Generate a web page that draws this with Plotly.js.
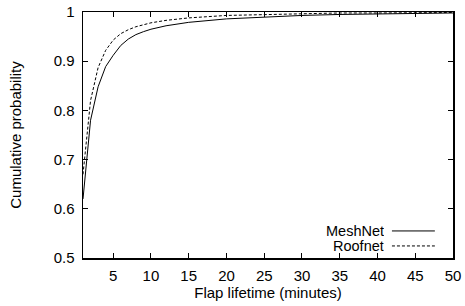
<!DOCTYPE html>
<html>
<head>
<meta charset="utf-8">
<script src="https://cdn.plot.ly/plotly-3.0.1.min.js"></script>
<style>html,body{margin:0;padding:0;background:#fff;}#chart{width:465px;height:306px;}</style>
</head>
<body>
<div id="chart"></div>
<script>
const meshX = [1, 2, 3, 4, 5, 6, 7, 8, 9, 10, 12, 15, 20, 25, 30, 35, 40, 45, 50];
const meshY = [0.62, 0.78, 0.848, 0.889, 0.912, 0.932, 0.945, 0.954, 0.960, 0.965, 0.972, 0.979, 0.986, 0.990, 0.993, 0.995, 0.996, 0.997, 0.998];
const roofX = [1, 2, 3, 4, 5, 6, 7, 8, 9, 10, 12, 15, 20, 25, 30, 35, 40, 45, 50];
const roofY = [0.67, 0.82, 0.887, 0.922, 0.943, 0.956, 0.964, 0.970, 0.974, 0.978, 0.983, 0.988, 0.993, 0.995, 0.997, 0.998, 0.998, 0.999, 0.999];
const seriesNames = ["MeshNet", "Roofnet"];
const xTicks = [5, 10, 15, 20, 25, 30, 35, 40, 45, 50];
const yTicks = [0.5, 0.6, 0.7, 0.8, 0.9, 1];
const yTickLabels = ["0.5", "0.6", "0.7", "0.8", "0.9", "1"];

const fam = "Liberation Sans, Arial, sans-serif";
const font = {family: fam, size: 15, color: "#000"};

const traces = [
  {x: meshX, y: meshY, name: seriesNames[0], mode: "lines", line: {color: "#000", width: 1}, showlegend: false},
  {x: roofX, y: roofY, name: seriesNames[1], mode: "lines", line: {color: "#000", width: 1, dash: "3px,2px"}, showlegend: false}
];

const axisCommon = {
  showline: true, mirror: "ticks", linecolor: "#000", linewidth: 1.5,
  ticks: "inside", ticklen: 5, tickwidth: 1, tickcolor: "#000",
  showgrid: false, zeroline: false, tickfont: {family: fam, size: 15, color: "#000"}
};

const layout = {
  width: 465, height: 306,
  margin: {l: 83, r: 12, t: 12, b: 48},
  paper_bgcolor: "#fff", plot_bgcolor: "#fff",
  font: font,
  xaxis: Object.assign({}, axisCommon, {
    range: [1, 50], tickvals: xTicks, ticktext: xTicks.map(String),
    ticklabelstandoff: 3,
    title: {text: "Flap lifetime (minutes)", font: {family: fam, size: 15}, standoff: 4}
  }),
  yaxis: Object.assign({}, axisCommon, {
    range: [0.5, 1], tickvals: yTicks, ticktext: yTickLabels,
    ticklabelstandoff: 4,
    title: {text: "Cumulative probability", font: {family: fam, size: 15}, standoff: 28}
  }),
  annotations: [
    {xref: "paper", yref: "paper", x: 0.818, y: 0.11, xanchor: "right", yanchor: "middle", height: 13, text: seriesNames[0], showarrow: false, font: {family: fam, size: 14.5}},
    {xref: "paper", yref: "paper", x: 0.818, y: 0.049, xanchor: "right", yanchor: "middle", height: 13, text: seriesNames[1], showarrow: false, font: {family: fam, size: 14.5}}
  ],
  shapes: [
    {type: "line", xref: "paper", yref: "paper", x0: 0.835, x1: 0.951, y0: 0.11, y1: 0.11, line: {color: "#000", width: 1}},
    {type: "line", xref: "paper", yref: "paper", x0: 0.835, x1: 0.951, y0: 0.049, y1: 0.049, line: {color: "#000", width: 1, dash: "3px,2px"}}
  ]
};

Plotly.newPlot("chart", traces, layout, {displayModeBar: false, staticPlot: true});
</script>
</body>
</html>
